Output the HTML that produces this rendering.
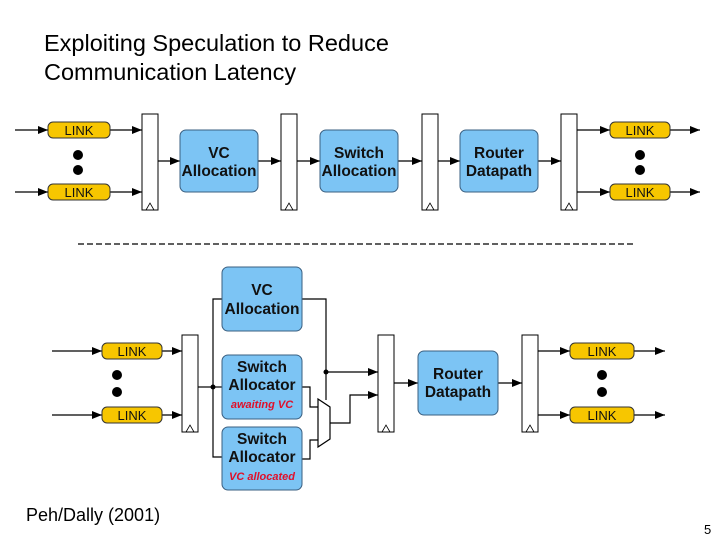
<!DOCTYPE html>
<html><head><meta charset="utf-8"><style>
body{margin:0;background:#fff}
svg{display:block}
.t{font-family:"Liberation Sans",sans-serif}
.b{font-family:"Liberation Sans",sans-serif;font-weight:bold;fill:#111}
</style></head><body>
<svg width="720" height="540" viewBox="0 0 720 540">
<defs>
<marker id="a" viewBox="0 0 10 10" refX="10" refY="5" markerWidth="14" markerHeight="10" markerUnits="userSpaceOnUse" orient="auto"><path d="M0,1 L10,5 L0,9 z" fill="#000"/></marker>
</defs>
<text class="t" x="44" y="51" font-size="23.5">Exploiting Speculation to Reduce</text>
<text class="t" x="44" y="80" font-size="23.5">Communication Latency</text>
<g stroke="#000" stroke-width="1.2" fill="none">
<line x1="15" y1="130" x2="48" y2="130" marker-end="url(#a)"/>
<line x1="15" y1="192" x2="48" y2="192" marker-end="url(#a)"/>
<line x1="110" y1="130" x2="142" y2="130" marker-end="url(#a)"/>
<line x1="110" y1="192" x2="142" y2="192" marker-end="url(#a)"/>
<line x1="158" y1="161" x2="180" y2="161" marker-end="url(#a)"/>
<line x1="258" y1="161" x2="281" y2="161" marker-end="url(#a)"/>
<line x1="297" y1="161" x2="320" y2="161" marker-end="url(#a)"/>
<line x1="398" y1="161" x2="422" y2="161" marker-end="url(#a)"/>
<line x1="438" y1="161" x2="460" y2="161" marker-end="url(#a)"/>
<line x1="538" y1="161" x2="561" y2="161" marker-end="url(#a)"/>
<line x1="577" y1="130" x2="610" y2="130" marker-end="url(#a)"/>
<line x1="577" y1="192" x2="610" y2="192" marker-end="url(#a)"/>
<line x1="670" y1="130" x2="700" y2="130" marker-end="url(#a)"/>
<line x1="670" y1="192" x2="700" y2="192" marker-end="url(#a)"/>
<line x1="52" y1="351" x2="102" y2="351" marker-end="url(#a)"/>
<line x1="52" y1="415" x2="102" y2="415" marker-end="url(#a)"/>
<line x1="162" y1="351" x2="182" y2="351" marker-end="url(#a)"/>
<line x1="162" y1="415" x2="182" y2="415" marker-end="url(#a)"/>
<polyline points="198,387 213,387"/>
<polyline points="222,299 213,299 213,457 222,457"/>
<line x1="213" y1="387" x2="222" y2="387"/>
<polyline points="302,299 326,299 326,400"/>
<line x1="326" y1="372" x2="378" y2="372" marker-end="url(#a)"/>
<polyline points="302,387 310,387 310,407 318,407"/>
<polyline points="302,459 310,459 310,440 318,440"/>
<polyline points="330,423 350,423 350,395 378,395" marker-end="url(#a)"/>
<line x1="394" y1="383" x2="418" y2="383" marker-end="url(#a)"/>
<line x1="498" y1="383" x2="522" y2="383" marker-end="url(#a)"/>
<line x1="538" y1="351" x2="570" y2="351" marker-end="url(#a)"/>
<line x1="538" y1="415" x2="570" y2="415" marker-end="url(#a)"/>
<line x1="634" y1="351" x2="665" y2="351" marker-end="url(#a)"/>
<line x1="634" y1="415" x2="665" y2="415" marker-end="url(#a)"/>
</g>
<line x1="78" y1="244" x2="635" y2="244" stroke="#000" stroke-width="1.2" stroke-dasharray="6,3"/>
<path d="M318,399 L330,407 L330,439 L318,447 Z" fill="#fff" stroke="#000" stroke-width="1.2"/>
<g fill="#000">
<circle cx="78" cy="155" r="5"/><circle cx="78" cy="170" r="5"/>
<circle cx="640" cy="155" r="5"/><circle cx="640" cy="170" r="5"/>
<circle cx="117" cy="375" r="5"/><circle cx="117" cy="392" r="5"/>
<circle cx="602" cy="375" r="5"/><circle cx="602" cy="392" r="5"/>
<circle cx="213" cy="387" r="2.5"/><circle cx="326" cy="372" r="2.5"/>
</g>
<g fill="#fff" stroke="#000" stroke-width="1">
<rect x="142" y="114" width="16" height="96"/>
<rect x="281" y="114" width="16" height="96"/>
<rect x="422" y="114" width="16" height="96"/>
<rect x="561" y="114" width="16" height="96"/>
<rect x="182" y="335" width="16" height="97"/>
<rect x="378" y="335" width="16" height="97"/>
<rect x="522" y="335" width="16" height="97"/>
</g>
<g fill="none" stroke="#000" stroke-width="0.8">
<polyline points="146,210 150,203 154,210"/>
<polyline points="285,210 289,203 293,210"/>
<polyline points="426,210 430,203 434,210"/>
<polyline points="565,210 569,203 573,210"/>
<polyline points="186,432 190,425 194,432"/>
<polyline points="382,432 386,425 390,432"/>
<polyline points="526,432 530,425 534,432"/>
</g>
<g fill="#f7c600" stroke="#333" stroke-width="1">
<rect x="48" y="122" width="62" height="16" rx="5"/>
<rect x="48" y="184" width="62" height="16" rx="5"/>
<rect x="610" y="122" width="60" height="16" rx="5"/>
<rect x="610" y="184" width="60" height="16" rx="5"/>
<rect x="102" y="343" width="60" height="16" rx="5"/>
<rect x="102" y="407" width="60" height="16" rx="5"/>
<rect x="570" y="343" width="64" height="16" rx="5"/>
<rect x="570" y="407" width="64" height="16" rx="5"/>
</g>
<g class="t" font-size="13" text-anchor="middle" fill="#111">
<text x="79" y="135">LINK</text><text x="79" y="197">LINK</text>
<text x="640" y="135">LINK</text><text x="640" y="197">LINK</text>
<text x="132" y="356">LINK</text><text x="132" y="420">LINK</text>
<text x="602" y="356">LINK</text><text x="602" y="420">LINK</text>
</g>
<g fill="#7cc4f4" stroke="#3a5f80" stroke-width="1">
<rect x="180" y="130" width="78" height="62" rx="6"/>
<rect x="320" y="130" width="78" height="62" rx="6"/>
<rect x="460" y="130" width="78" height="62" rx="6"/>
<rect x="222" y="267" width="80" height="64" rx="6"/>
<rect x="222" y="355" width="80" height="64" rx="6"/>
<rect x="222" y="427" width="80" height="63" rx="6"/>
<rect x="418" y="351" width="80" height="64" rx="6"/>
</g>
<g class="b" font-size="15.5" text-anchor="middle">
<text x="219" y="158">VC</text><text x="219" y="176">Allocation</text>
<text x="359" y="158">Switch</text><text x="359" y="176">Allocation</text>
<text x="499" y="158">Router</text><text x="499" y="176">Datapath</text>
<text x="262" y="295">VC</text><text x="262" y="314">Allocation</text>
<text x="262" y="372">Switch</text><text x="262" y="390">Allocator</text>
<text x="262" y="444">Switch</text><text x="262" y="462">Allocator</text>
<text x="458" y="379">Router</text><text x="458" y="397">Datapath</text>
</g>
<g font-family="Liberation Sans,sans-serif" font-weight="bold" font-style="italic" font-size="11" fill="#e0102a" text-anchor="middle">
<text x="262" y="408">awaiting VC</text>
<text x="262" y="480">VC allocated</text>
</g>
<text class="t" x="26" y="521" font-size="18">Peh/Dally (2001)</text>
<text class="t" x="704" y="534" font-size="13">5</text>
</svg>
</body></html>
